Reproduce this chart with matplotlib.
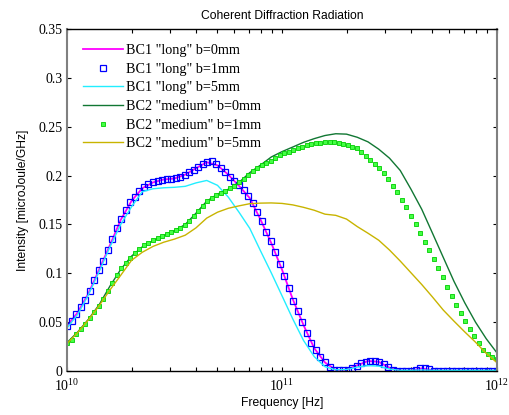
import numpy as np
import matplotlib
matplotlib.use("Agg")
import matplotlib.pyplot as plt
from matplotlib.ticker import LogLocator, NullFormatter, FuncFormatter

# sampling grids (frequency in Hz)
freq_line = np.logspace(10, 12, 41)
freq_dots = np.logspace(10, 12, 96)

# BC1 "long" bunch, line series
bc1_b0 = [0.046, 0.060, 0.0795, 0.104, 0.129, 0.1547, 0.174, 0.187, 0.193, 0.196,
          0.197, 0.201, 0.2075, 0.2137, 0.2105, 0.201, 0.1895, 0.177, 0.155, 0.131,
          0.1038, 0.0735, 0.047, 0.0233, 0.0087, 0.001, 0.0013, 0.0058, 0.0102, 0.0094,
          0.0033, 0.0005, 0.0005, 0.0027, 0.0008, 0.0005, 0.0005, 0.0005, 0.0005, 0.0005,
          0.0005]
bc1_b5 = [0.044, 0.058, 0.078, 0.102, 0.127, 0.150, 0.168, 0.1835, 0.1865, 0.1875,
          0.188, 0.189, 0.1925, 0.195, 0.190, 0.178, 0.1625, 0.146, 0.123, 0.1005,
          0.077, 0.0533, 0.0313, 0.0147, 0.0044, 0.0012, 0.0015, 0.004, 0.0055, 0.005,
          0.002, 0.0007, 0.0007, 0.001, 0.0007, 0.0007, 0.0007, 0.0007, 0.0007, 0.0007,
          0.0007]

# BC1 b=1mm, markers
bc1_b1 = [0.046, 0.051, 0.058, 0.065, 0.073, 0.082, 0.093, 0.103, 0.113, 0.124,
          0.135, 0.146, 0.156, 0.165, 0.173, 0.178, 0.184, 0.188, 0.191, 0.193,
          0.1945, 0.1955, 0.196, 0.1966, 0.1975, 0.199, 0.201, 0.2035, 0.206, 0.209,
          0.212, 0.214, 0.2145, 0.212, 0.208, 0.204, 0.199, 0.194, 0.190, 0.185,
          0.179, 0.172, 0.163, 0.153, 0.142, 0.133, 0.122, 0.110, 0.0975, 0.085,
          0.072, 0.061, 0.050, 0.039, 0.029, 0.021, 0.0145, 0.009, 0.0037, 0.0015,
          0.001, 0.001, 0.0015, 0.003, 0.0055, 0.008, 0.0097, 0.0105, 0.0105, 0.0092,
          0.0068, 0.004, 0.0015, 0.0005, 0.0005, 0.0005, 0.0005, 0.0015, 0.0027, 0.0028,
          0.002, 0.0005, 0.0005, 0.0005, 0.0005, 0.0005, 0.0005, 0.0005, 0.0005, 0.0005,
          0.0005, 0.0005, 0.0005, 0.0005, 0.0005, 0.0005]

# BC2 "medium" bunch, line series
bc2_b0 = [0.029, 0.040, 0.053, 0.068, 0.087, 0.104, 0.1175, 0.127, 0.1335, 0.1387,
          0.1435, 0.150, 0.1615, 0.1738, 0.181, 0.186, 0.193, 0.203, 0.2107, 0.219,
          0.2245, 0.2292, 0.234, 0.2378, 0.241, 0.2428, 0.2424, 0.2392, 0.2345, 0.227,
          0.2178, 0.2052, 0.186, 0.1655, 0.141, 0.1163, 0.0917, 0.0698, 0.050, 0.033,
          0.0185]
bc2_b5 = [0.028, 0.0395, 0.0525, 0.067, 0.083, 0.098, 0.1132, 0.1215, 0.1275, 0.1318,
          0.135, 0.139, 0.1465, 0.1565, 0.1625, 0.1665, 0.169, 0.1712, 0.1718, 0.172,
          0.1715, 0.170, 0.1675, 0.1645, 0.1605, 0.1593, 0.1555, 0.1478, 0.141, 0.1338,
          0.1238, 0.1125, 0.1005, 0.0885, 0.0757, 0.0624, 0.051, 0.040, 0.0295, 0.018,
          0.0085]

# BC2 b=1mm, markers
bc2_b1 = [0.029, 0.032, 0.038, 0.043, 0.048, 0.054, 0.060, 0.067, 0.074, 0.082,
          0.090, 0.098, 0.105, 0.111, 0.116, 0.121, 0.125, 0.1285, 0.1315, 0.134,
          0.136, 0.138, 0.140, 0.142, 0.144, 0.1465, 0.1495, 0.153, 0.1585, 0.164,
          0.169, 0.174, 0.1775, 0.1805, 0.182, 0.1845, 0.187, 0.1895, 0.193, 0.197,
          0.201, 0.205, 0.208, 0.211, 0.213, 0.215, 0.218, 0.221, 0.2227, 0.2245,
          0.2262, 0.228, 0.2297, 0.2314, 0.2324, 0.233, 0.2336, 0.234, 0.2342, 0.2343,
          0.2336, 0.2326, 0.2312, 0.2296, 0.228, 0.2245, 0.2198, 0.216, 0.212, 0.2075,
          0.2022, 0.1963, 0.1895, 0.1828, 0.1753, 0.1675, 0.1585, 0.150, 0.141, 0.1325,
          0.124, 0.115, 0.1055, 0.096, 0.086, 0.0765, 0.0675, 0.059, 0.051, 0.0432,
          0.036, 0.0285, 0.022, 0.0178, 0.0145, 0.012]

labels = ['BC1 "long" b=0mm', 'BC1 "long" b=1mm', 'BC1 "long" b=5mm',
          'BC2 "medium" b=0mm', 'BC2 "medium" b=1mm', 'BC2 "medium" b=5mm']
xtick_vals = [1e10, 1e11, 1e12]
xtick_text = [r'$\mathrm{10^{10}}$', r'$\mathrm{10^{11}}$', r'$\mathrm{10^{12}}$']

plt.rcParams['font.family'] = 'Liberation Serif'
plt.rcParams['mathtext.fontset'] = 'custom'
plt.rcParams['mathtext.rm'] = 'Liberation Serif'

fig = plt.figure(figsize=(5.1, 4.15), dpi=100)
ax = fig.add_axes([67 / 510, 1 - 371 / 415, 430 / 510, 342 / 415])

ax.plot(freq_line, bc1_b0, color="#ff00ff", lw=1.3, label=labels[0])
ax.plot(freq_dots, bc1_b1, ls="none", marker="s", ms=3.8, mfc="none",
        mec="#0000ff", mew=0.9, label=labels[1])
ax.plot(freq_line, bc1_b5, color="#22eeff", lw=1.0, label=labels[2])
ax.plot(freq_line, bc2_b0, color="#117733", lw=1.0, label=labels[3])
ax.plot(freq_dots, bc2_b1, ls="none", marker="s", ms=2.3, mfc="#44ff44",
        mec="#00cc00", mew=0.6, label=labels[4])
ax.plot(freq_line, bc2_b5, color="#c8b400", lw=1.0, label=labels[5])

ax.set_xscale("log")
ax.set_xlim(1e10, 1e12)
ax.set_ylim(0, 0.35)
ax.set_yticks(np.arange(0, 0.351, 0.05))
ax.yaxis.set_major_formatter(FuncFormatter(lambda v, p: "%g" % round(v, 3)))
ax.set_xticks(xtick_vals, xtick_text)
ax.xaxis.set_minor_locator(LogLocator(base=10, subs=range(2, 10)))
ax.xaxis.set_minor_formatter(NullFormatter())

ax.tick_params(which="both", direction="in", top=True, right=True,
               length=3, width=0.8, labelsize=10)
ax.tick_params(axis="x", pad=5)
ax.tick_params(axis="y", pad=3)

for side in ["left", "right"]:
    ax.spines[side].set_color("#808080")
    ax.spines[side].set_linewidth(1.5)
for side in ["top", "bottom"]:
    ax.spines[side].set_color("black")
    ax.spines[side].set_linewidth(1.0)

ax.set_title("Coherent Diffraction Radiation", fontfamily="Liberation Sans",
             fontsize=8.7, pad=7)
ax.set_xlabel("Frequency [Hz]", fontfamily="Liberation Sans", fontsize=8.7, labelpad=2)
ax.set_ylabel("Intensity [microJoule/GHz]", fontfamily="Liberation Sans",
              fontsize=8.7, labelpad=7)

ax.legend(loc="upper left", bbox_to_anchor=(0.037, 0.956), frameon=False,
          fontsize=10.2, borderpad=0, borderaxespad=0, handlelength=2.8,
          handletextpad=0.21, labelspacing=0.40)

fig.savefig("out.png", dpi=100)
